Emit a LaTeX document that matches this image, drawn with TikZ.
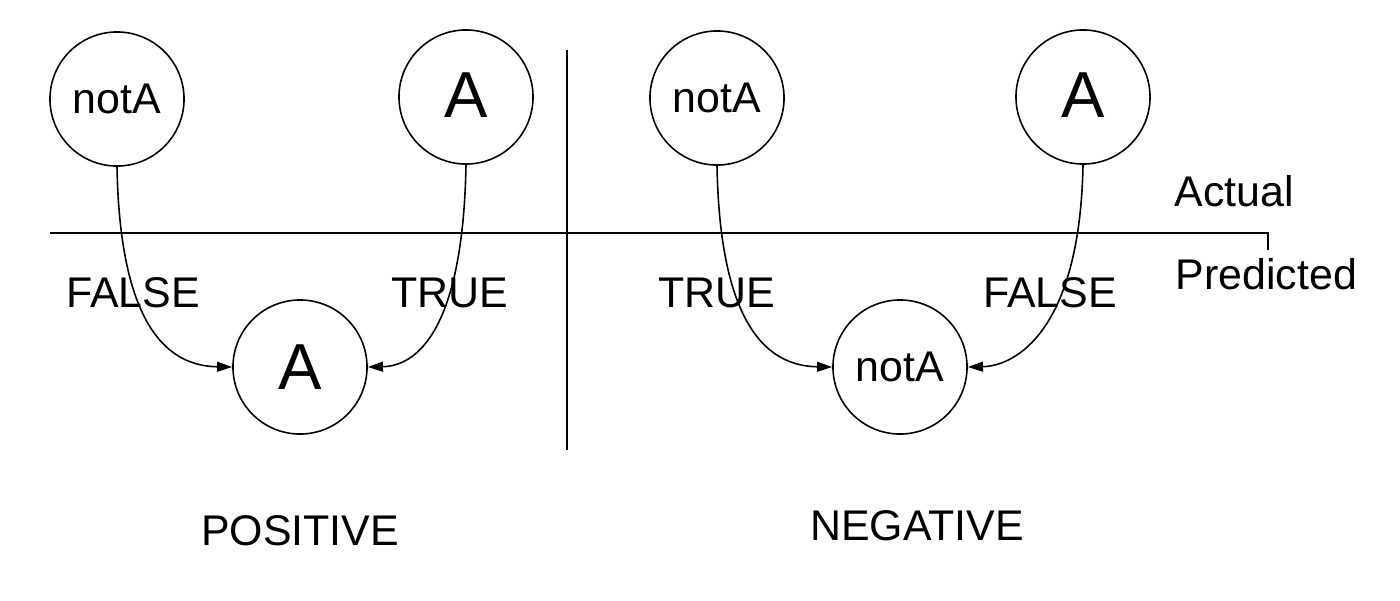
\documentclass[tikz,border=0pt]{standalone}
\usepackage{fontspec}
\setmainfont{Liberation Sans}
\usetikzlibrary{arrows.meta}
\begin{document}
\begin{tikzpicture}[x=0.01cm,y=-0.01cm,
  st/.style={circle,draw,line width=0.45pt,minimum size=1.34cm,inner sep=0pt},
  big/.style={font=\fontsize{18.5}{20}\selectfont},
  small/.style={font=\fontsize{12.2}{14}\selectfont},
  lbl/.style={font=\fontsize{12.2}{14}\selectfont,inner sep=0pt,anchor=base},
  axis/.style={line width=0.6pt},
  flow/.style={line width=0.45pt,-{Triangle[length=4.3pt,width=2.8pt]}}]
\useasboundingbox (0,0) rectangle (1400,600);
% separators
\coordinate (hl) at (50,233);
\coordinate (hr) at (1268,233);
\coordinate (ht) at (1268,250);
\coordinate (vt) at (567,50);
\coordinate (vb) at (567,450);
\draw[axis] (hl) -- (hr) -- (ht);
\draw[axis] (vt) -- (vb);
% states
\node[st,small] (pa) at (117,99) {notA};
\node[st,big]   (pb) at (466,97) {\raisebox{1pt}{A}};
\node[st,big]   (pc) at (300,367) {A};
\node[st,small] (na) at (717,98) {notA};
\node[st,big]   (nb) at (1083,97) {\raisebox{1pt}{A}};
\node[st,small] (nc) at (900,367) {notA};
% flows
\draw[flow] (pa.south) .. controls (120,330) and (170,366) .. (pc.west);
\draw[flow] (pb.south) .. controls (463,330) and (417,366) .. (pc.east);
\draw[flow] (na.south) .. controls (720,330) and (770,366) .. (nc.west);
\draw[flow] (nb.south) .. controls (1080,330) and (1016,366) .. (nc.east);
% labels
\node[lbl] (l1) at (133,307) {FALSE};
\node[lbl] (l2) at (450,307) {TRUE};
\node[lbl] (l3) at (717,307) {TRUE};
\node[lbl] (l4) at (1050,307) {FALSE};
\node[lbl] (pos) at (300,545) {POSITIVE};
\node[lbl] (neg) at (917,540) {NEGATIVE};
\node[lbl,anchor=base west] (act) at (1174,206) {Actual};
\node[lbl,anchor=base west] (pre) at (1175,289) {Predicted};
\end{tikzpicture}
\end{document}
